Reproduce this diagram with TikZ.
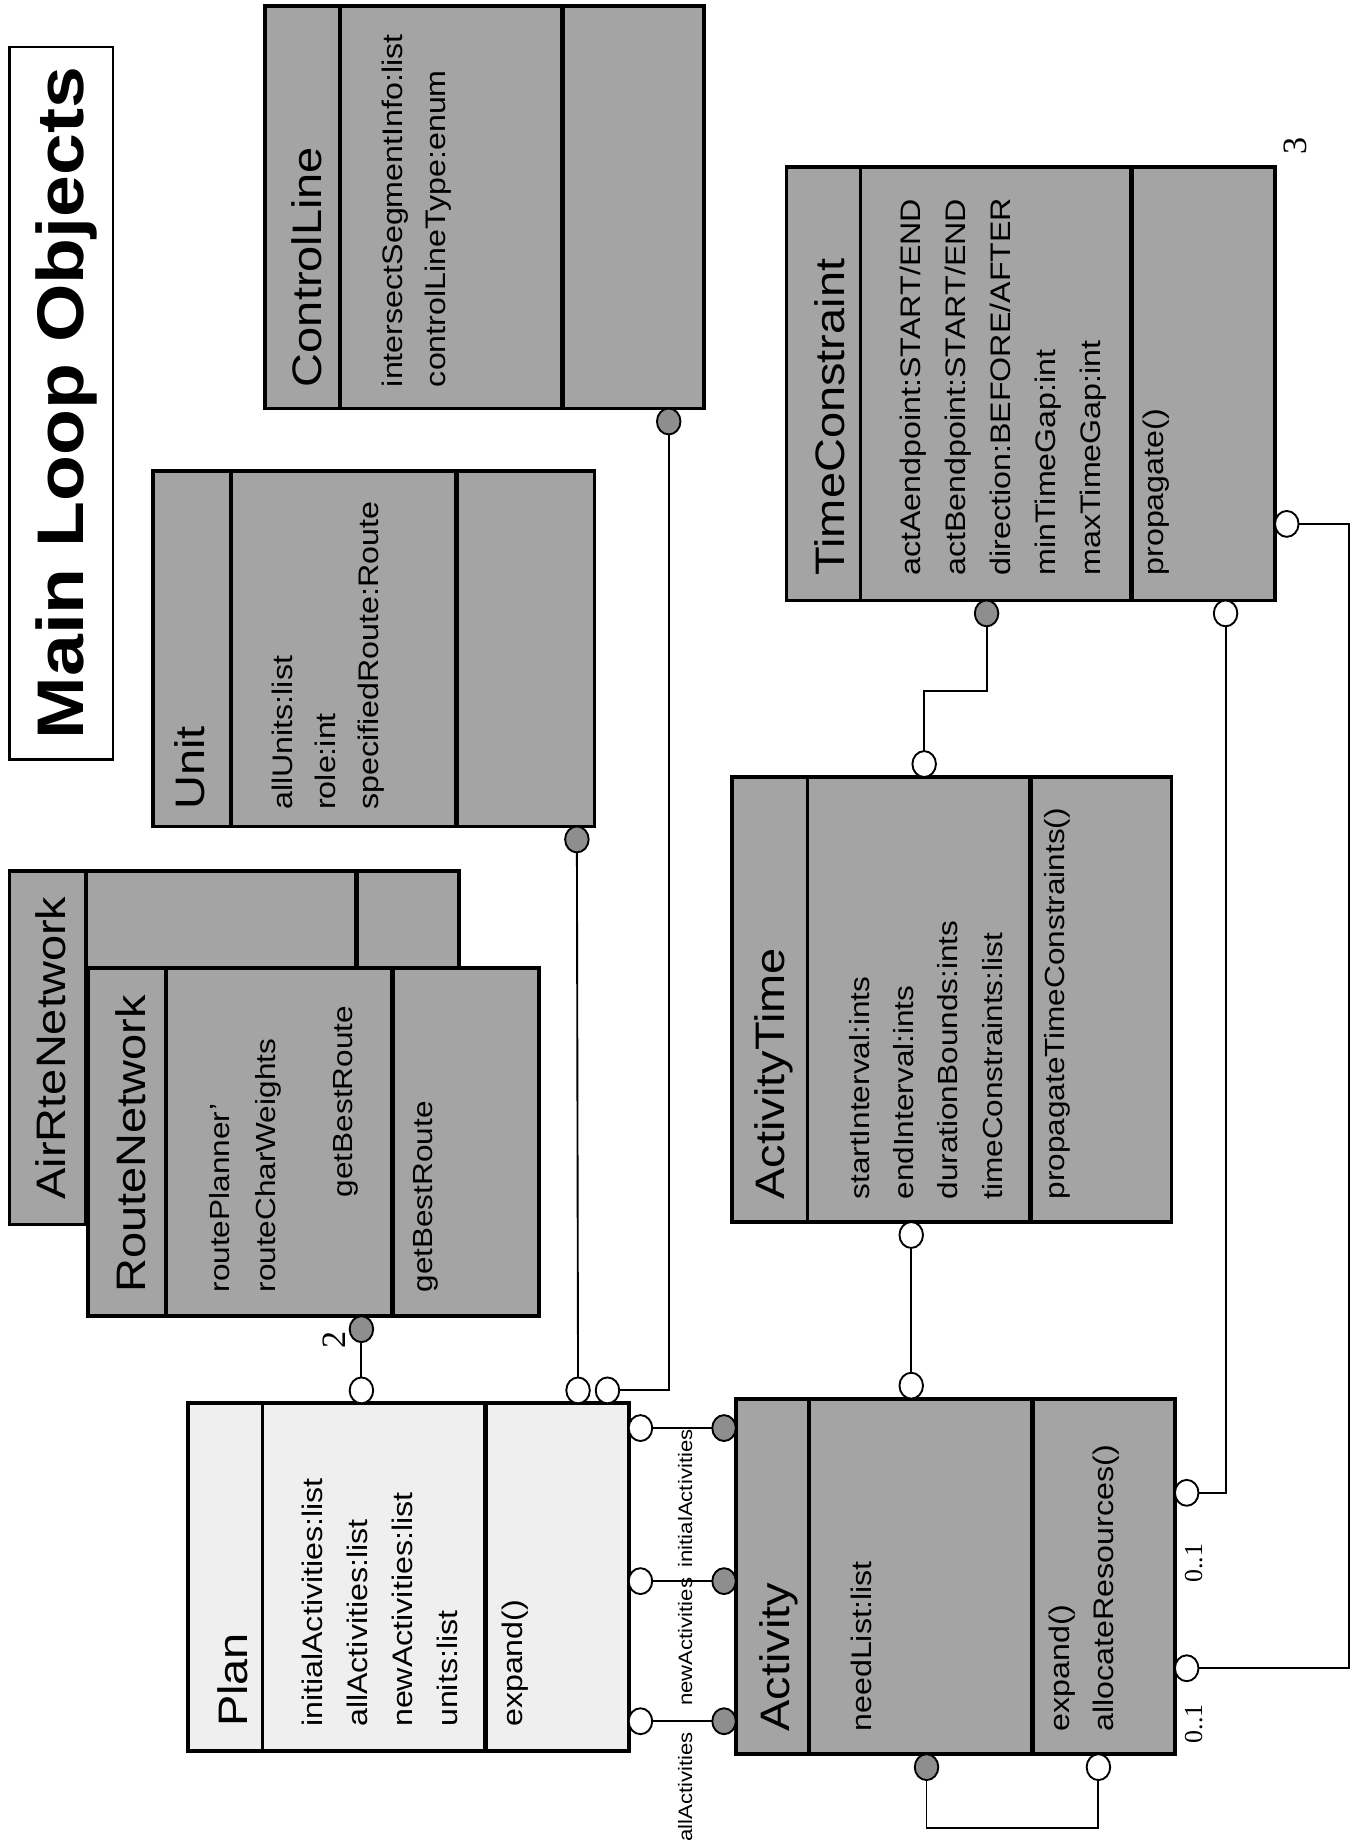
\documentclass[tikz,border=0pt]{standalone}
\usepackage{fontspec}
\setmainfont{Liberation Sans}[FakeStretch=1.14]
\newfontfamily\serifnum{Liberation Serif}
\usetikzlibrary{shapes.geometric}
\definecolor{boxgray}{HTML}{A4A4A4}
\definecolor{planfill}{HTML}{EFEFEF}
\definecolor{dotgray}{HTML}{8E8E8E}
\begin{document}
\begin{tikzpicture}[x=1pt,y=-1pt,
  cbox/.style={draw=black, line width=3.2pt, fill=boxgray, rectangle, inner sep=0pt, outer sep=0pt, anchor=north west},
  tsep/.style={line width=3pt},
  msep/.style={line width=4.2pt},
  ttl/.style={rotate=90, anchor=base west, inner sep=0pt, font=\fontsize{35}{40}\selectfont},
  att/.style={rotate=90, anchor=north west, inner sep=0pt, align=left},
  lbl/.style={rotate=90, anchor=east, inner sep=0pt, font=\fontsize{16.5}{18}\selectfont},
  num/.style={rotate=90, inner sep=0pt, font=\serifnum\fontsize{29}{31}\selectfont},
  ell/.style={ellipse, draw=black, line width=1.6pt, minimum width=20pt, minimum height=22pt, inner sep=0pt, outer sep=0pt},
  hol/.style={ell, fill=white},
  ful/.style={ell, fill=dotgray},
  con/.style={line width=1.6pt}
]
\useasboundingbox (0,0) rectangle (1155,1568);

% title
\node[draw, line width=2pt, fill=white, minimum width=88pt, minimum height=605pt, anchor=north west, inner sep=0pt, outer sep=0pt] (TB) at (8,40) {};
\node[rotate=90, anchor=base, inner sep=0pt, font=\bfseries\fontsize{56}{60}\selectfont] (TT) at (70.5,342.5) {Main Loop Objects};

% ControlLine
\node[cbox, minimum width=373pt, minimum height=342pt] (CL) at (225,5) {};
\draw[tsep] (289,5) -- (289,347);
\draw[msep] (478,5) -- (478,347);
\node[ttl] (CLt) at (273,329) {ControlLine};
\node[att, font=\fontsize{24}{37}\selectfont] (CLa) at (324,329) {intersectSegmentInfo:list\\controlLineType:enum};

% Unit
\node[cbox, minimum width=375pt, minimum height=302pt] (UN) at (130,400) {};
\draw[tsep] (196,400) -- (196,702);
\draw[msep] (388,400) -- (388,702);
\node[ttl] (UNt) at (174,688) {Unit};
\node[att, font=\fontsize{24}{36.5}\selectfont] (UNa) at (231,688) {allUnits:list\\role:int\\specifiedRoute:Route};

% AirRteNetwork (behind)
\node[cbox, minimum width=382pt, minimum height=300pt] (AR) at (8,740) {};
\draw[tsep] (73,740) -- (73,1040);
\draw[msep] (303,740) -- (303,1040);
\node[ttl] (ARt) at (56,1019) {AirRteNetwork};

% RouteNetwork
\node[cbox, minimum width=383pt, minimum height=296pt] (RN) at (75,822) {};
\draw[tsep] (141,822) -- (141,1118);
\draw[msep] (333,822) -- (333,1118);
\node[ttl] (RNt) at (124,1098) {RouteNetwork};
\node[att, font=\fontsize{23.5}{39}\selectfont] (RNa) at (178,1098) {routePlanner'\\routeCharWeights};
\node[att, font=\fontsize{23.5}{39}\selectfont] (RNb) at (283,1017) {getBestRoute};
\node[att, font=\fontsize{23.5}{39}\selectfont] (RNm) at (351,1098) {getBestRoute};

% TimeConstraint
\node[cbox, minimum width=415pt, minimum height=368pt] (TC) at (668,142) {};
\draw[tsep] (731,142) -- (731,510);
\draw[msep] (961,142) -- (961,510);
\node[ttl] (TCt) at (717,489) {TimeConstraint};
\node[att, font=\fontsize{24}{38.2}\selectfont] (TCa) at (764,489) {actAendpoint:START/END\\actBendpoint:START/END\\direction:BEFORE/AFTER\\minTimeGap:int\\maxTimeGap:int};
\node[att, font=\fontsize{24}{38}\selectfont] (TCm) at (971,489) {propagate()};

% ActivityTime
\node[cbox, minimum width=373pt, minimum height=378pt] (AT) at (622,660) {};
\draw[tsep] (686,660) -- (686,1038);
\draw[msep] (875,660) -- (875,1038);
\node[ttl] (ATt) at (666,1019) {ActivityTime};
\node[att, font=\fontsize{23.5}{37.7}\selectfont] (ATa) at (721,1019) {startInterval:ints\\endInterval:ints\\durationBounds:ints\\timeConstraints:list};
\node[att, font=\fontsize{23.5}{38}\selectfont] (ATm) at (887,1019) {propagateTimeConstraints()};

% Plan
\node[cbox, fill=planfill, minimum width=374pt, minimum height=295pt] (PL) at (160,1192) {};
\draw[tsep] (223,1192) -- (223,1487);
\draw[msep] (412,1192) -- (412,1487);
\node[ttl] (PLt) at (210,1467) {Plan};
\node[att, font=\fontsize{24}{38.3}\selectfont] (PLa) at (256,1467) {initialActivities:list\\allActivities:list\\newActivities:list\\units:list};
\node[att, font=\fontsize{24}{38}\selectfont] (PLm) at (426,1467) {expand()};

% Activity
\node[cbox, minimum width=373pt, minimum height=302pt] (AC) at (625,1188) {};
\draw[tsep] (687,1188) -- (687,1490);
\draw[msep] (877,1188) -- (877,1490);
\node[ttl] (ACt) at (671,1471) {Activity};
\node[att, font=\fontsize{24}{38}\selectfont] (ACa) at (723,1471) {needList:list};
\node[att, font=\fontsize{24}{37}\selectfont] (ACm) at (891,1471) {expand()\\allocateResources()};

% connector ends
\node[ful] (eRN) at (307,1129) {};
\node[hol] (eP1) at (307,1181) {};
\node[ful] (eUN) at (490,713) {};
\node[hol] (eP2) at (491,1181) {};
\node[ful] (eCL) at (568,358) {};
\node[hol] (eP3) at (516,1181) {};
\node[hol] (eP4) at (544,1213) {};
\node[hol] (eP5) at (544,1343) {};
\node[hol] (eP6) at (544,1462) {};
\node[ful] (eA1) at (615,1213) {};
\node[ful] (eA2) at (615,1343) {};
\node[ful] (eA3) at (615,1462) {};
\node[hol] (eAT1) at (774,1049) {};
\node[hol] (eA4) at (774,1177) {};
\node[ful] (eTC1) at (838,521) {};
\node[hol] (eAT2) at (785,649) {};
\node[hol] (eTC2) at (1041,521) {};
\node[hol] (eA5) at (1008,1268) {};
\node[hol] (eTC3) at (1093,445) {};
\node[hol] (eA6) at (1008,1417) {};
\node[ful] (eA7) at (787,1501) {};
\node[hol] (eA8) at (933,1501) {};
\coordinate (cTA) at (785,587);
\coordinate (cR) at (1146,900);
\coordinate (cL) at (787,1553);

% connectors
\draw[con] (eRN) -- (eP1);
\draw[con] (eUN) -- (eP2);
\draw[con] (eP3) -| (eCL);
\draw[con] (eP4) -- (eA1);
\draw[con] (eP5) -- (eA2);
\draw[con] (eP6) -- (eA3);
\draw[con] (eAT1) -- (eA4);
\draw[con] (eTC1) |- (cTA) -- (eAT2);
\draw[con] (eTC2) |- (eA5);
\draw[con] (eTC3) -| (cR) |- (eA6);
\draw[con] (eA7) |- (cL) -| (eA8);

% labels
\node[lbl] (l1) at (582,1214) {initialActivities};
\node[lbl] (l2) at (582,1340) {newActivities};
\node[lbl] (l3) at (582,1471) {allActivities};
\node[num] (n2) at (284,1138) {2};
\node[num] (n3) at (1100,124) {3};
\node[num, font=\serifnum\fontsize{22}{24}\selectfont] (n01a) at (1014,1328) {0..1};
\node[num, font=\serifnum\fontsize{22}{24}\selectfont] (n01b) at (1014,1464) {0..1};
\end{tikzpicture}
\end{document}
